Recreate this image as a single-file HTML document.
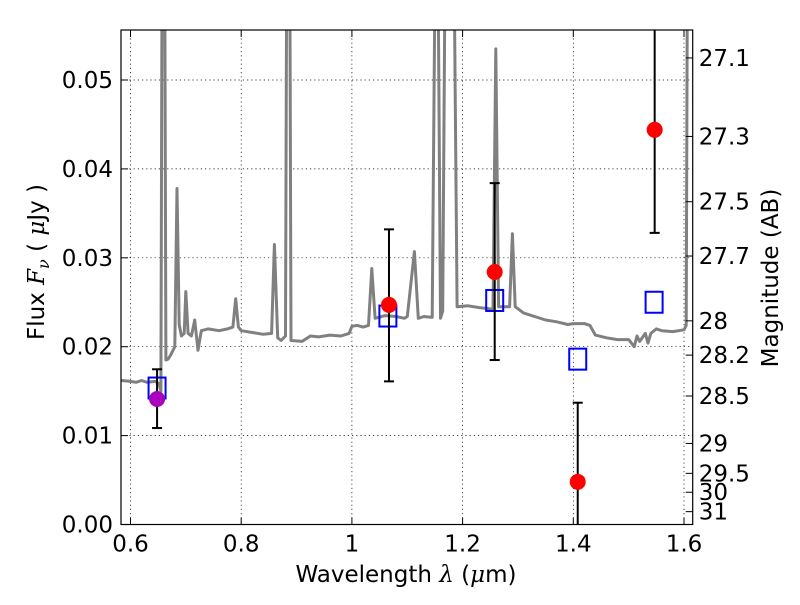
<!DOCTYPE html>
<html><head><meta charset="utf-8"><style>
body{margin:0;background:#fff;width:800px;height:600px;overflow:hidden}
svg text{font-family:"DejaVu Sans","Liberation Sans",sans-serif}
</style></head><body>
<svg id="c" width="800" height="600"></svg>
<script>
const xTicks=[0.6,0.8,1.0,1.2,1.4,1.6];
const xTickLabels=["0.6","0.8","1","1.2","1.4","1.6"];
const yTicks=[0,0.01,0.02,0.03,0.04,0.05];
const yTickLabels=["0.00","0.01","0.02","0.03","0.04","0.05"];
const magTicks=[27.1,27.3,27.5,27.7,28,28.2,28.5,29,29.5,30,31];
const magTickLabels=["27.1","27.3","27.5","27.7","28","28.2","28.5","29","29.5","30","31"];
const specWave=[0.583,0.60,0.61,0.62,0.63,0.645,0.652,0.655,0.657,0.660,0.662,0.664,0.668,0.672,0.676,0.680,0.684,0.688,0.692,0.697,0.700,0.704,0.710,0.716,0.722,0.728,0.74,0.76,0.775,0.785,0.790,0.795,0.80,0.82,0.84,0.855,0.86,0.866,0.872,0.880,0.882,0.888,0.890,0.91,0.925,0.94,0.96,0.98,0.995,1.0,1.01,1.02,1.03,1.036,1.042,1.06,1.08,1.095,1.10,1.113,1.12,1.13,1.145,1.15,1.156,1.16,1.164,1.168,1.175,1.185,1.19,1.21,1.23,1.245,1.255,1.26,1.265,1.285,1.29,1.295,1.31,1.33,1.35,1.37,1.39,1.40,1.42,1.43,1.44,1.46,1.48,1.50,1.51,1.515,1.52,1.53,1.535,1.54,1.55,1.56,1.58,1.60,1.604,1.606];
const specFlux=[0.0162,0.0161,0.016,0.0162,0.016,0.0161,0.0158,0.0150,0.06,0.06,0.06,0.0185,0.0186,0.019,0.0195,0.0200,0.0378,0.0225,0.0212,0.0215,0.0262,0.0215,0.0212,0.0230,0.0196,0.0218,0.0220,0.0218,0.0220,0.0222,0.0254,0.0222,0.0218,0.0216,0.0214,0.0215,0.0315,0.021,0.0207,0.0212,0.06,0.06,0.0207,0.0206,0.0212,0.0211,0.0213,0.0212,0.0215,0.0223,0.0224,0.0222,0.0224,0.0288,0.0232,0.0235,0.0234,0.0232,0.0234,0.0307,0.0232,0.0234,0.0233,0.06,0.06,0.0232,0.024,0.06,0.06,0.06,0.0245,0.0246,0.0244,0.0243,0.0242,0.0535,0.0245,0.0245,0.0327,0.0245,0.0238,0.0234,0.0230,0.0228,0.0225,0.0226,0.0226,0.0224,0.0213,0.0210,0.0208,0.0208,0.0200,0.0212,0.0206,0.0215,0.0204,0.0215,0.0220,0.0218,0.0217,0.0219,0.0224,0.06];
const modelWave=[0.648,1.065,1.258,1.408,1.546];
const modelFlux=[0.01535,0.02345,0.0252,0.0186,0.0250];
const obsWave=[1.067,1.258,1.408,1.547];
const obsFlux=[0.0247,0.0284,0.0048,0.0444];
const obsLow=[0.0161,0.0185,-0.01,0.0328];
const obsHigh=[0.0332,0.0384,0.0137,0.07];
const purpleWave=[0.648];
const purpleFlux=[0.01412];
const purpleLow=[0.01085];
const purpleHigh=[0.01746];

const L=121,R=692.7,T=30,B=524.5;
const X=v=>130.5+(v-0.6)*553.5;
const Y=v=>B-v*8890;
const M=m=>Y(Math.pow(10,(23.9-m)/2.5));
const svg=document.getElementById('c');
const NS='http://www.w3.org/2000/svg';
function mk(tag,at,parent){const e=document.createElementNS(NS,tag);for(const k in at)e.setAttribute(k,at[k]);(parent||svg).appendChild(e);return e;}

const defs=mk('defs',{});const cp=mk('clipPath',{id:'clip'},defs);mk('rect',{x:L,y:T,width:R-L,height:B-T},cp);

const grid=mk('g',{});


xTicks.forEach(v=>{mk('line',{x1:X(v),x2:X(v),y1:T,y2:B,stroke:'#000','stroke-width':0.7,'stroke-dasharray':'1.2,3'},grid);});
yTicks.forEach(v=>{mk('line',{x1:L,x2:R,y1:Y(v),y2:Y(v),stroke:'#000','stroke-width':0.7,'stroke-dasharray':'1.2,3'},grid);});

let d='';specWave.forEach((w,i)=>{d+=(i?'L':'M')+X(w).toFixed(1)+','+Y(specFlux[i]).toFixed(1);});
const sp=mk('path',{d:d,fill:'none',stroke:'#808080','stroke-width':3,'clip-path':'url(#clip)','stroke-linejoin':'round'});



modelWave.forEach((w,i)=>{
 const r=mk('rect',{x:X(w)-8.5,y:Y(modelFlux[i])-10.5,width:17,height:21,fill:'none',stroke:'#0000ff','stroke-width':2});
 
 
});
function errs(ws,fs,lo,hi,col,nm){
 ws.forEach((w,i)=>{
  const g=mk('g',{'clip-path':'url(#clip)'});
  
  
  const x=X(w);
  mk('line',{x1:x,x2:x,y1:Y(lo[i]),y2:Y(hi[i]),stroke:'#000','stroke-width':2},g);
  [lo[i],hi[i]].forEach(v=>mk('line',{x1:x-5,x2:x+5,y1:Y(v),y2:Y(v),stroke:'#000','stroke-width':2},g));
  mk('circle',{cx:x,cy:Y(fs[i]),r:8,fill:col},g);
 });
}
errs(obsWave,obsFlux,obsLow,obsHigh,'#ff0000','observed-point');
errs(purpleWave,purpleFlux,purpleLow,purpleHigh,'#aa00bb','observed-point-purple');

const fr=mk('rect',{x:L,y:T,width:R-L,height:B-T,fill:'none',stroke:'#000','stroke-width':1.2});



xTicks.forEach((v,i)=>{
 mk('line',{x1:X(v),x2:X(v),y1:B,y2:B-7,stroke:'#000'});
 mk('line',{x1:X(v),x2:X(v),y1:T,y2:T+7,stroke:'#000'});
 const t=mk('text',{x:X(v),y:B+27,'font-size':23,'text-anchor':'middle'});t.textContent=xTickLabels[i];
 
 
});
yTicks.forEach((v,i)=>{
 mk('line',{x1:L,x2:L+7,y1:Y(v),y2:Y(v),stroke:'#000'});
 const t=mk('text',{x:L-8,y:Y(v)+8,'font-size':23,'text-anchor':'end'});t.textContent=yTickLabels[i];
 
 
});
magTicks.forEach((m,i)=>{
 const y=M(m);
 mk('line',{x1:R,x2:R-7,y1:y,y2:y,stroke:'#000'});
 const t=mk('text',{x:R+6,y:y+8,'font-size':23,'text-anchor':'start'});t.textContent=magTickLabels[i];
 
 
});
</script>
<svg width="800" height="600" style="position:absolute;left:0;top:0">
<text x="406" y="582" font-size="23" text-anchor="middle" font-family="DejaVu Sans, sans-serif">Wavelength  <tspan font-style="italic" font-family="DejaVu Serif, serif">λ</tspan> (<tspan font-style="italic" font-family="DejaVu Serif, serif">μ</tspan>m)</text>
<text transform="translate(44,262) rotate(-90)" font-size="23" text-anchor="middle" font-family="DejaVu Sans, sans-serif">Flux  <tspan font-style="italic" font-family="DejaVu Serif, serif">F</tspan><tspan font-style="italic" font-family="DejaVu Serif, serif" font-size="16" dy="5">ν</tspan><tspan dy="-5">  ( </tspan><tspan font-style="italic" font-family="DejaVu Serif, serif">μ</tspan>Jy )</text>
<text transform="translate(778,278) rotate(-90)" font-size="23" text-anchor="middle" font-family="DejaVu Sans, sans-serif">Magnitude (AB)</text>
</svg>
</body></html>
